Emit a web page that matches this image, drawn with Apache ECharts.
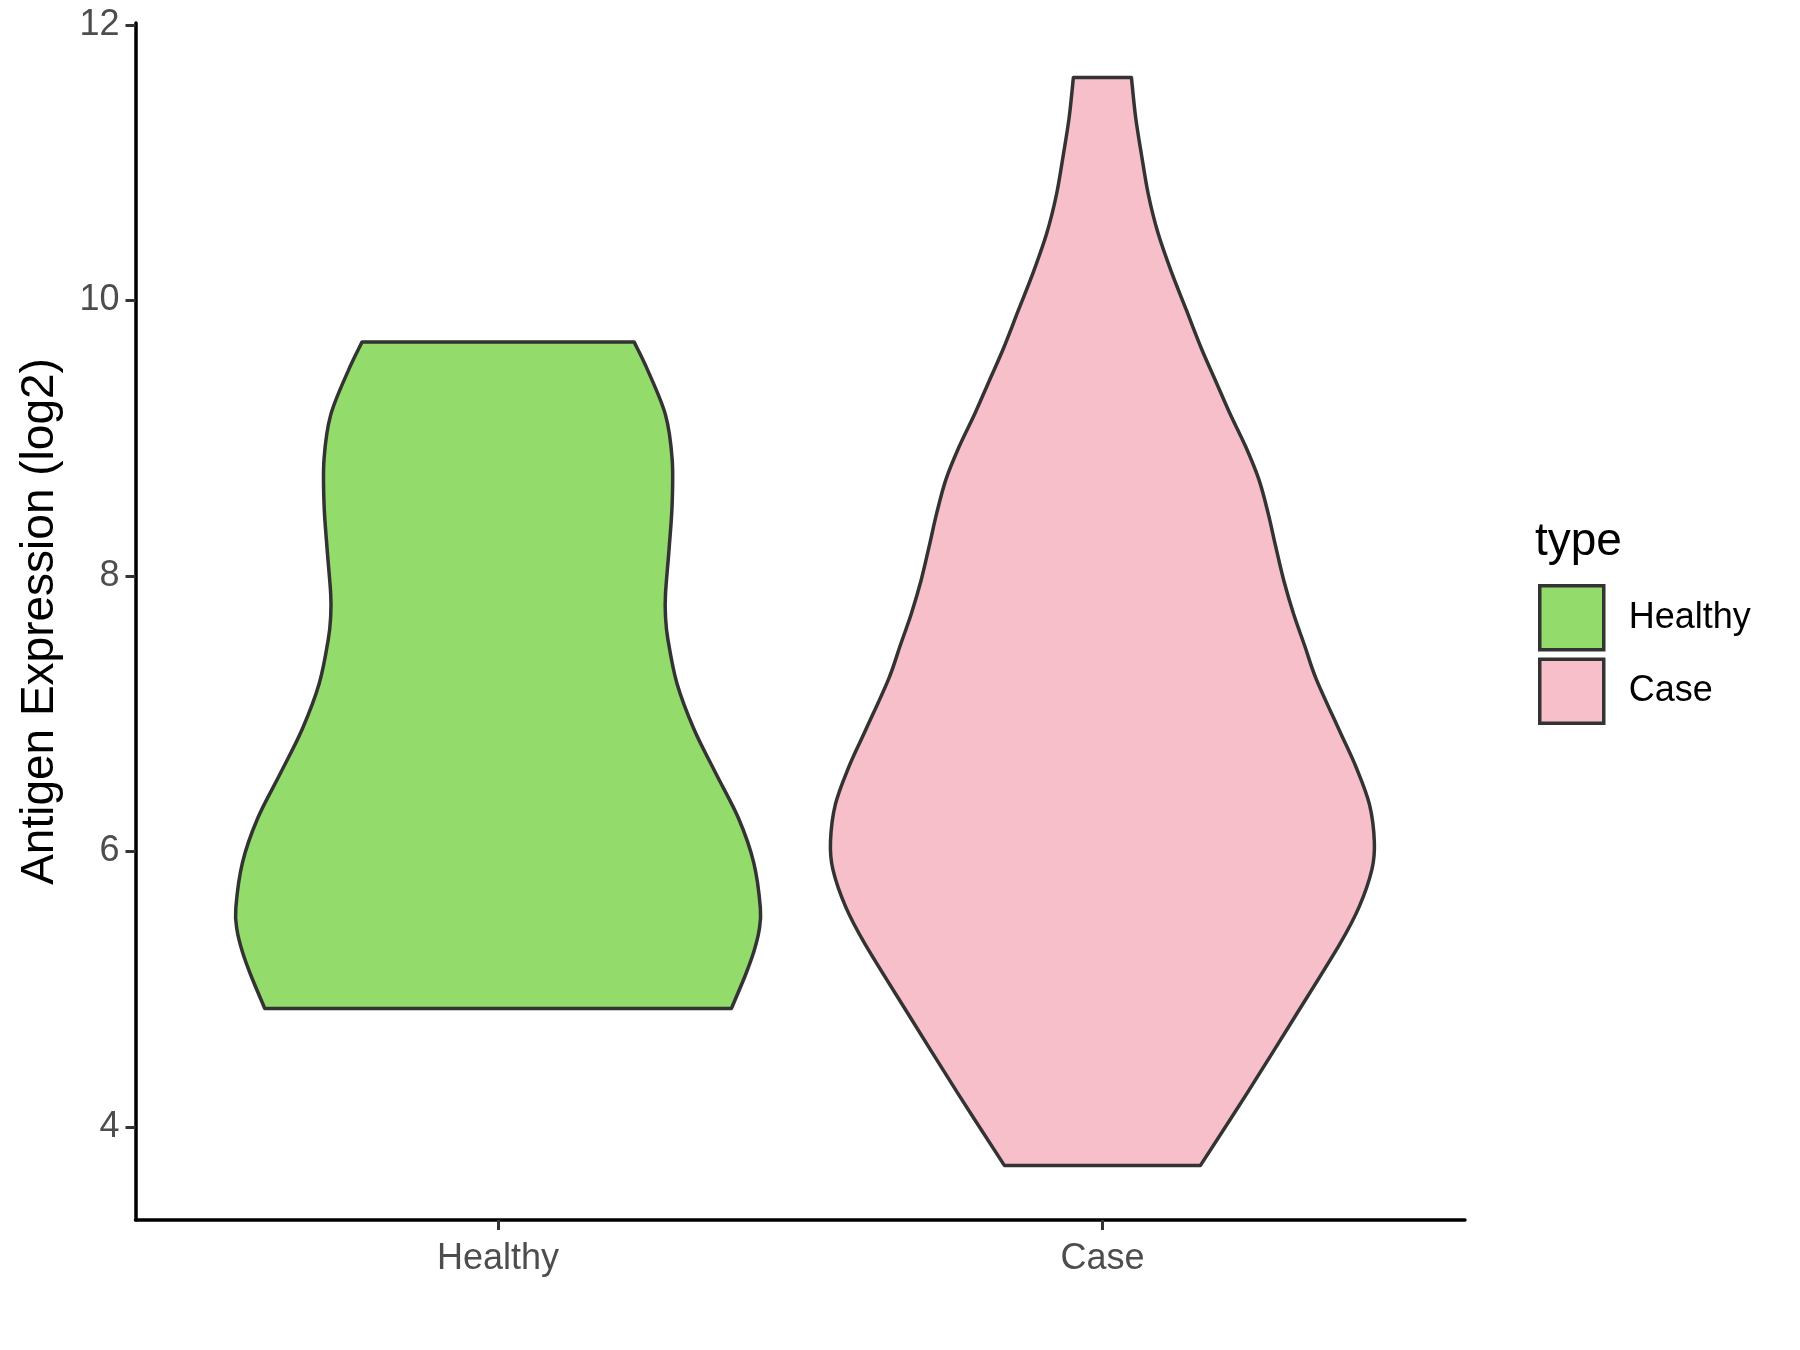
<!DOCTYPE html>
<html>
<head>
<meta charset="utf-8">
<script src="https://cdn.jsdelivr.net/npm/echarts@6/dist/echarts.min.js"></script>
<style>
html,body{margin:0;padding:0;background:#fff;}
#chart{width:1800px;height:1350px;}
</style>
</head>
<body>
<div id="chart"></div>
<script>
// Categories
const categories = ['Healthy', 'Case'];
// Y tick labels
const yTicks = [4, 6, 8, 10, 12];
// Healthy violin outline: expression values and half-width (in category units)
const healthyValues    = [4.86, 5.10, 5.27, 5.43, 5.59, 5.92, 6.24, 6.57, 6.89, 7.22, 7.54, 7.71, 7.87, 8.20, 8.52, 8.85, 9.17, 9.50, 9.70];
const healthyHalfWidth = [0.386, 0.409, 0.423, 0.432, 0.434, 0.423, 0.398, 0.360, 0.324, 0.296, 0.281, 0.277, 0.277, 0.283, 0.288, 0.288, 0.277, 0.247, 0.225];
// Case violin outline
const caseValues    = [3.72, 4.25, 4.79, 5.33, 5.60, 5.87, 6.07, 6.34, 6.61, 6.88, 7.25, 7.49, 7.73, 7.97, 8.21, 8.46, 8.70, 8.94, 9.18, 9.42, 9.65, 9.93, 10.21, 10.49, 10.77, 11.05, 11.33, 11.62];
const caseHalfWidth = [0.162, 0.240, 0.317, 0.393, 0.425, 0.446, 0.450, 0.442, 0.420, 0.392, 0.354, 0.335, 0.316, 0.300, 0.287, 0.274, 0.259, 0.237, 0.211, 0.187, 0.164, 0.139, 0.114, 0.092, 0.076, 0.065, 0.055, 0.048];

const colors = {Healthy: '#93DB6B', Case: '#F7BFCA'};
const FONT = '"Liberation Sans", Arial, Helvetica, sans-serif';

// Smooth curve through screen points (Catmull-Rom as cubic Bezier), appended to path string
function curveThrough(pts, startWithMove) {
  let d = startWithMove ? 'M' + pts[0][0] + ' ' + pts[0][1] : 'L' + pts[0][0] + ' ' + pts[0][1];
  for (let i = 0; i < pts.length - 1; i++) {
    const p0 = pts[Math.max(i - 1, 0)], p1 = pts[i], p2 = pts[i + 1], p3 = pts[Math.min(i + 2, pts.length - 1)];
    const c1x = p1[0] + (p2[0] - p0[0]) / 6, c1y = p1[1] + (p2[1] - p0[1]) / 6;
    const c2x = p2[0] - (p3[0] - p1[0]) / 6, c2y = p2[1] - (p3[1] - p1[1]) / 6;
    d += ' C' + c1x + ' ' + c1y + ' ' + c2x + ' ' + c2y + ' ' + p2[0] + ' ' + p2[1];
  }
  return d;
}

function makeRender(values, halfW, center) {
  return function (params, api) {
    if (params.dataIndex !== 0) return null;
    const left = [], right = [];
    for (let i = 0; i < values.length; i++) {
      left.push(api.coord([center - halfW[i], values[i]]));
      right.push(api.coord([center + halfW[i], values[i]]));
    }
    const d = curveThrough(left, true) + ' ' + curveThrough(right.reverse(), false) + ' Z';
    return {
      type: 'path',
      shape: { pathData: d },
      style: { fill: api.visual('color'), stroke: '#333333', lineWidth: 3.5, lineJoin: 'round' }
    };
  };
}

const chart = echarts.init(document.getElementById('chart'), null, {renderer: 'canvas'});
const option = {
  backgroundColor: '#ffffff',
  animation: false,
  textStyle: { fontFamily: FONT },
  title: {
    text: 'type', left: 1530, top: 514,
    textStyle: { fontSize: 46, fontWeight: 'normal', color: '#000', fontFamily: FONT }
  },
  legend: {
    orient: 'vertical', left: 1538, top: 584, padding: 0,
    itemWidth: 64, itemHeight: 64, itemGap: 6,
    textStyle: { fontSize: 36, color: '#000', fontFamily: FONT, padding: [0, 0, 0, 20] },
    data: categories.map(c => ({ name: c, icon: 'rect', itemStyle: { color: colors[c], borderColor: '#333333', borderWidth: 3.5 } }))
  },
  grid: { left: 135.5, right: 335, top: 23, bottom: 130, containLabel: false },
  xAxis: {
    type: 'value', min: -0.6, max: 1.6,
    splitLine: { show: false },
    axisLine: { show: true, onZero: false, lineStyle: { color: '#000', width: 3.5 } },
    axisTick: { show: true, customValues: [0, 1], length: 10, lineStyle: { color: '#333', width: 3 } },
    axisLabel: { show: true, customValues: [0, 1], margin: 21, fontSize: 36, color: '#4D4D4D', fontFamily: FONT,
      formatter: v => categories[Math.round(v)] }
  },
  yAxis: {
    type: 'value', min: 3.325, max: 12.015,
    name: 'Antigen Expression (log2)', nameLocation: 'middle', nameGap: 72,
    nameTextStyle: { fontSize: 46, color: '#000', fontFamily: FONT },
    splitLine: { show: false },
    axisLine: { show: true, onZero: false, lineStyle: { color: '#000', width: 3.5 } },
    axisTick: { show: true, customValues: yTicks, length: 10, lineStyle: { color: '#333', width: 3 } },
    axisLabel: { show: true, customValues: yTicks, margin: 16, fontSize: 36, color: '#4D4D4D', fontFamily: FONT }
  },
  series: [
    {
      name: 'Healthy', type: 'custom', itemStyle: { color: colors.Healthy, borderColor: '#333', borderWidth: 3.5 },
      renderItem: makeRender(healthyValues, healthyHalfWidth, 0),
      encode: { x: 0, y: 1 },
      data: healthyValues.map((v, i) => [0, v, healthyHalfWidth[i]])
    },
    {
      name: 'Case', type: 'custom', itemStyle: { color: colors.Case, borderColor: '#333', borderWidth: 3.5 },
      renderItem: makeRender(caseValues, caseHalfWidth, 1),
      encode: { x: 0, y: 1 },
      data: caseValues.map((v, i) => [1, v, caseHalfWidth[i]])
    }
  ]
};
chart.setOption(option);
</script>
</body>
</html>
